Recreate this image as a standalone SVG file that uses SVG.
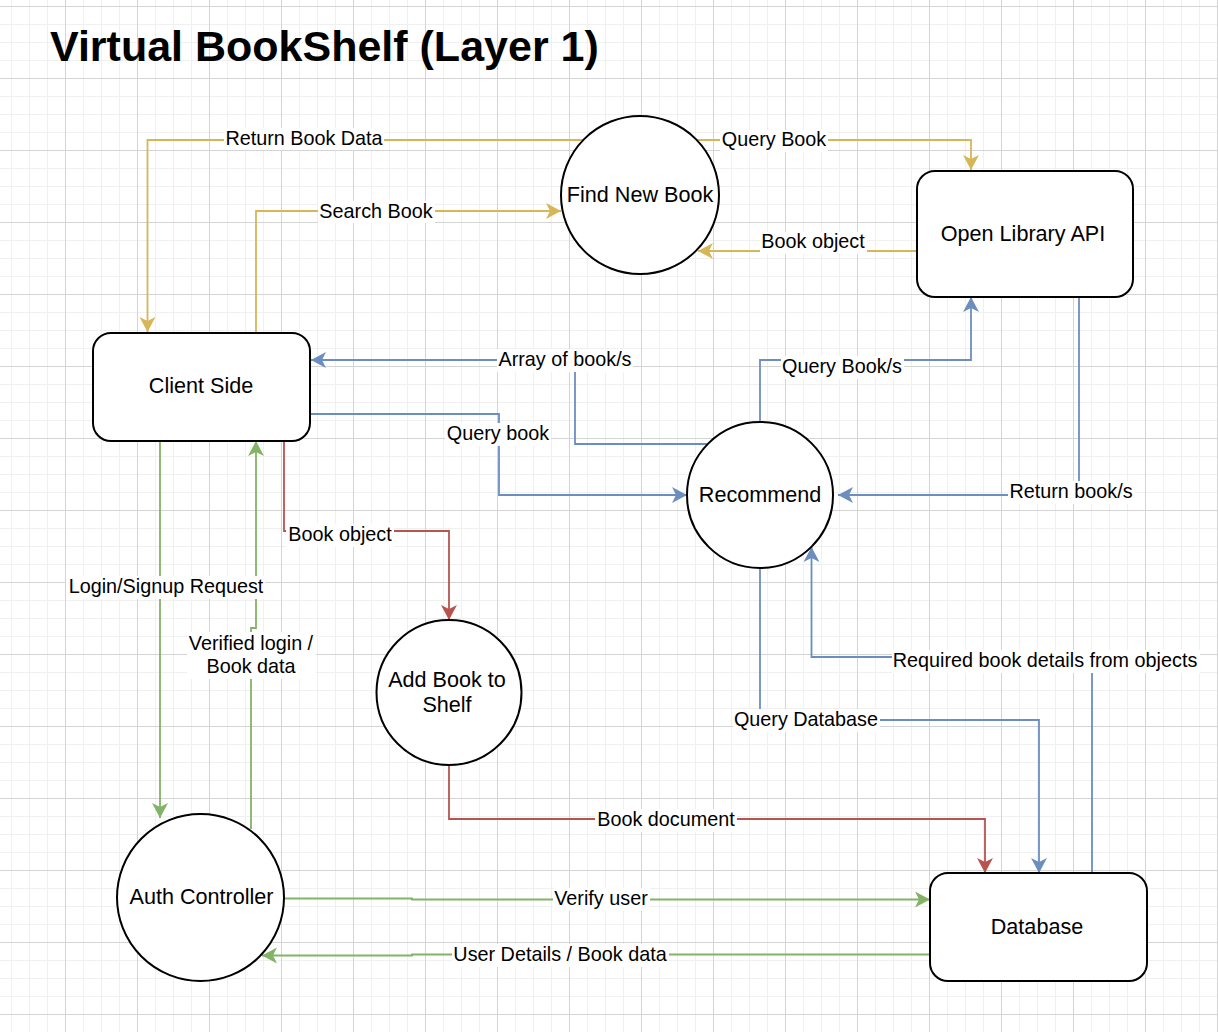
<svg xmlns="http://www.w3.org/2000/svg" width="1218" height="1032" viewBox="0 0 1218 1032">
<defs>
<pattern id="minor" patternUnits="userSpaceOnUse" x="11" y="6" width="18" height="18">
<path d="M0.5,0 V18 M0,0.5 H18" stroke="#f0f0f0" stroke-width="1" fill="none"/>
</pattern>
<pattern id="major" patternUnits="userSpaceOnUse" x="-7" y="6" width="72" height="72">
<path d="M0.5,0 V72 M0,0.5 H72" stroke="#d4d4d4" stroke-width="1" fill="none"/>
</pattern>
<marker id="aY" markerUnits="userSpaceOnUse" markerWidth="20" markerHeight="20" refX="15" refY="8" orient="auto"><path d="M15,8 L0,0 L4,8 L0,16 Z" fill="#d6b656"/></marker>
<marker id="aB" markerUnits="userSpaceOnUse" markerWidth="20" markerHeight="20" refX="15" refY="8" orient="auto"><path d="M15,8 L0,0 L4,8 L0,16 Z" fill="#6c8ebf"/></marker>
<marker id="aR" markerUnits="userSpaceOnUse" markerWidth="20" markerHeight="20" refX="15" refY="8" orient="auto"><path d="M15,8 L0,0 L4,8 L0,16 Z" fill="#b85450"/></marker>
<marker id="aG" markerUnits="userSpaceOnUse" markerWidth="20" markerHeight="20" refX="15" refY="8" orient="auto"><path d="M15,8 L0,0 L4,8 L0,16 Z" fill="#82b366"/></marker>
</defs>
<style>
.node{fill:#ffffff;stroke:#000000;stroke-width:2}
.nt{font-family:"Liberation Sans",Arial,Helvetica,sans-serif;font-size:21.6px;fill:#000;text-anchor:middle}
.et{font-family:"Liberation Sans",Arial,Helvetica,sans-serif;font-size:19.8px;fill:#000;text-anchor:middle}
.bg{fill:#ffffff}
.e{fill:none;stroke-width:1.8}
.y{stroke:#d6b656;marker-end:url(#aY)}
.b{stroke:#6c8ebf;marker-end:url(#aB)}
.r{stroke:#b85450;marker-end:url(#aR)}
.g{stroke:#82b366;marker-end:url(#aG)}
.title{font-family:"Liberation Sans",Arial,Helvetica,sans-serif;font-size:43px;font-weight:bold;fill:#000}
</style>
<rect x="0" y="0" width="1218" height="1032" fill="#ffffff"/>
<rect x="0" y="0" width="1218" height="1032" fill="url(#minor)"/>
<rect x="0" y="0" width="1218" height="1032" fill="url(#major)"/>
<text class="title" x="50" y="61">Virtual BookShelf (Layer 1)</text>
<g id="connectors">
<path class="e y" d="M586,140 H147.5 V332"/>
<path class="e y" d="M694,140 H971 V170"/>
<path class="e y" d="M256,333 V211 H561"/>
<path class="e y" d="M917,235 V251 H698"/>
<path class="e b" d="M708,444 H575 V360 H311"/>
<path class="e b" d="M310,414 H499 V495 H687"/>
<path class="e b" d="M760,422 V360 H971 V297"/>
<path class="e b" d="M1079,297 V495 H838"/>
<path class="e b" d="M760,568 V720 H1039 V873"/>
<path class="e b" d="M1092,873 V657 H811.5 V547"/>
<path class="e r" d="M284,441 V531 H449 V620"/>
<path class="e r" d="M449,765 V819 H985 V873"/>
<path class="e g" d="M148,440 H160 V818"/>
<path class="e g" d="M251,829 V628 H256 V441"/>
<path class="e g" d="M284,898.5 H412 V899.5 H930"/>
<path class="e g" d="M930,954.5 H412 V955.5 H262"/>
<g id="edge-labels">
<rect class="bg" x="224" y="128" width="160" height="22"/><text class="et" x="304" y="144.5">Return Book Data</text>
<rect class="bg" x="720" y="130" width="108" height="22"/><text class="et" x="774" y="146">Query Book</text>
<rect class="bg" x="318" y="201" width="117" height="22"/><text class="et" x="376" y="218">Search Book</text>
<rect class="bg" x="760" y="232" width="107" height="22"/><text class="et" x="813" y="248">Book object</text>
<rect class="bg" x="497" y="349" width="136" height="23"/><text class="et" x="565" y="366">Array of book/s</text>
<rect class="bg" x="445" y="423" width="106" height="23"/><text class="et" x="498" y="440">Query book</text>
<rect class="bg" x="781" y="356" width="123" height="23"/><text class="et" x="842" y="373">Query Book/s</text>
<rect class="bg" x="1008" y="481" width="127" height="23"/><text class="et" x="1071" y="498">Return book/s</text>
<rect class="bg" x="286" y="524" width="108" height="23"/><text class="et" x="340" y="541">Book object</text>
<rect class="bg" x="66" y="576" width="199" height="23"/><text class="et" x="166" y="593">Login/Signup Request</text>
<rect class="bg" x="187" y="632" width="129" height="47"/><text class="et" x="251" y="650">Verified login /</text><text class="et" x="251" y="673">Book data</text>
<rect class="bg" x="892" y="650" width="308" height="23"/><text class="et" x="1045" y="667">Required book details from objects</text>
<rect class="bg" x="733" y="709" width="147" height="23"/><text class="et" x="806" y="726">Query Database</text>
<rect class="bg" x="595" y="809" width="142" height="23"/><text class="et" x="666" y="826">Book document</text>
<rect class="bg" x="553" y="888" width="97" height="23"/><text class="et" x="601" y="905">Verify user</text>
<rect class="bg" x="452" y="944" width="217" height="23"/><text class="et" x="560" y="961">User Details / Book data</text>
</g>
</g>
<g id="find-new-book"><circle class="node" cx="640" cy="195" r="79"/><text class="nt" x="640" y="202">Find New Book</text></g>
<g id="open-library-api"><rect class="node" x="917" y="171" width="216" height="126" rx="18"/><text class="nt" x="1023" y="241">Open Library API</text></g>
<g id="client-side"><rect class="node" x="93" y="333" width="217" height="108" rx="18"/><text class="nt" x="201" y="393">Client Side</text></g>
<g id="recommend"><circle class="node" cx="760" cy="495" r="73"/><text class="nt" x="760" y="502">Recommend</text></g>
<g id="add-book-to-shelf"><circle class="node" cx="449" cy="692.5" r="72.5"/><text class="nt" x="447" y="687">Add Book to</text><text class="nt" x="447" y="712">Shelf</text></g>
<g id="auth-controller"><circle class="node" cx="200.5" cy="897.5" r="83.5"/><text class="nt" x="201.5" y="904">Auth Controller</text></g>
<g id="database"><rect class="node" x="930" y="873" width="217" height="108" rx="18"/><text class="nt" x="1037" y="934">Database</text></g>
</svg>
